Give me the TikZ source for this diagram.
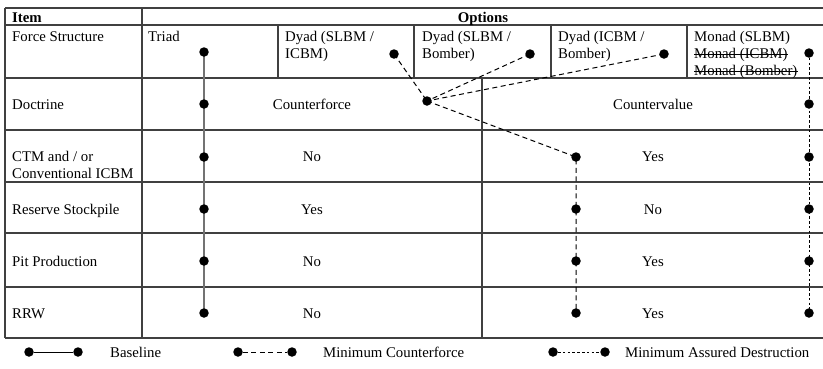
\documentclass[tikz,border=0pt]{standalone}
\usepackage{fontspec}
\setmainfont{Liberation Serif}
\begin{document}
\begin{tikzpicture}[x=1pt,y=-1pt,
  grid/.style={draw=black!75, line width=1.4pt},
  dot/.style={circle, fill=black, inner sep=0pt, minimum size=9.5pt},
  base link/.style={draw=black!55, line width=1.6pt},
  cf link/.style={draw=black, line width=1pt, dash pattern=on 5pt off 3.5pt},
  mad link/.style={draw=black, line width=1pt, dash pattern=on 2.6pt off 2.2pt},
  legend base/.style={draw=black, line width=1pt},
  strike/.style={draw=black, line width=1pt},
  txt/.style={inner sep=0pt, anchor=base west, font=\fontsize{14.8}{17}\selectfont},
  ctxt/.style={inner sep=0pt, anchor=base, font=\fontsize{14.8}{17}\selectfont},
]
\useasboundingbox (0,0) rectangle (823,368);

% ---- table rules ----
\foreach \yy in {8,25,78,130,182,233,287,338}
  \draw[grid] (5,\yy) -- (823,\yy);
\draw[grid] (5,8) -- (5,338);
\draw[grid] (142,8) -- (142,338);
\foreach \xx in {278,414,551,687}
  \draw[grid] (\xx,25) -- (\xx,78);
\draw[grid] (482,78) -- (482,338);

% ---- header ----
\node[txt] (hitem) at (12,22) {\textbf{Item}};
\node[ctxt] (hopt) at (483,22) {\textbf{Options}};

% ---- row labels ----
\node[txt] (rforce) at (12,41) {Force Structure};
\node[txt] (rdoc) at (12,109) {Doctrine};
\node[txt] (rctm1) at (12,161.5) {CTM and / or};
\node[txt] (rctm2) at (12,178.5) {Conventional ICBM};
\node[txt] (rres) at (12,214) {Reserve Stockpile};
\node[txt] (rpit) at (12,266) {Pit Production};
\node[txt] (rrrw) at (12,318) {RRW};

% ---- force structure options ----
\node[txt] (otriad) at (148,41) {Triad};
\node[txt] (odsi1) at (285,41) {Dyad (SLBM /};
\node[txt] (odsi2) at (285,58) {ICBM)};
\node[txt] (odsb1) at (422,41) {Dyad (SLBM /};
\node[txt] (odsb2) at (422,58) {Bomber)};
\node[txt] (odib1) at (558,41) {Dyad (ICBM /};
\node[txt] (odib2) at (558,58) {Bomber)};
\node[txt] (omon1) at (694,41) {Monad (SLBM)};
\node[txt] (omon2) at (694,58) {Monad (ICBM)};
\node[txt] (omon3) at (694,75) {Monad (Bomber)};
% struck-out monad variants
\draw[strike] ([yshift=4pt]omon2.base west) -- ([yshift=4pt]omon2.base east);
\draw[strike] ([yshift=4pt]omon3.base west) -- ([yshift=4pt]omon3.base east);

% ---- option values ----
\node[ctxt] (vcf) at (312,109) {Counterforce};
\node[ctxt] (vcv) at (653,109) {Countervalue};
\node[ctxt] (vctmL) at (312,161.5) {No};
\node[ctxt] (vctmR) at (653,161.5) {Yes};
\node[ctxt] (vresL) at (312,214) {Yes};
\node[ctxt] (vresR) at (653,214) {No};
\node[ctxt] (vpitL) at (312,266) {No};
\node[ctxt] (vpitR) at (653,266) {Yes};
\node[ctxt] (vrrwL) at (312,318) {No};
\node[ctxt] (vrrwR) at (653,318) {Yes};

% ---- path points ----
\coordinate (t1) at (204,52);
\coordinate (t2) at (204,104);
\coordinate (t3) at (204,157);
\coordinate (t4) at (204,209);
\coordinate (t5) at (204,261);
\coordinate (t6) at (204,313);

\coordinate (dsi) at (394,54);
\coordinate (dsb) at (530,54);
\coordinate (dib) at (664,54);
\coordinate (hub) at (427,101);
\coordinate (c3) at (576,157);
\coordinate (c4) at (576,209);
\coordinate (c5) at (576,261);
\coordinate (c6) at (576,313);

\coordinate (m1) at (809,53);
\coordinate (m2) at (809,104);
\coordinate (m3) at (809,157);
\coordinate (m4) at (809,209);
\coordinate (m5) at (809,261);
\coordinate (m6) at (809,313);

% baseline path
\draw[base link] (t1) -- (t2) -- (t3) -- (t4) -- (t5) -- (t6);
% minimum counterforce paths
\draw[cf link] (dsi) -- (hub);
\draw[cf link] (dsb) -- (hub);
\draw[cf link] (dib) -- (hub);
\draw[cf link] (hub) -- (c3) -- (c4) -- (c5) -- (c6);
% minimum assured destruction path
\draw[mad link] (m1) -- (m2) -- (m3) -- (m4) -- (m5) -- (m6);

\foreach \p in {t1,t2,t3,t4,t5,t6,dsi,dsb,dib,hub,c3,c4,c5,c6,m1,m2,m3,m4,m5,m6}
  \node[dot] at (\p) {};

% ---- legend ----
\node[dot] (lb1) at (29,352) {};
\node[dot] (lb2) at (78,352) {};
\draw[legend base] (lb1) -- (lb2);
\node[txt] (lbt) at (110,357) {Baseline};

\node[dot] (lc1) at (238,352) {};
\node[dot] (lc2) at (292,352) {};
\draw[cf link] (lc1) -- (lc2);
\node[txt] (lct) at (323,357) {Minimum Counterforce};

\node[dot] (lm1) at (553,352) {};
\node[dot] (lm2) at (605,352) {};
\draw[mad link] (lm1) -- (lm2);
\node[txt] (lmt) at (625,357) {Minimum Assured Destruction};
\end{tikzpicture}
\end{document}
